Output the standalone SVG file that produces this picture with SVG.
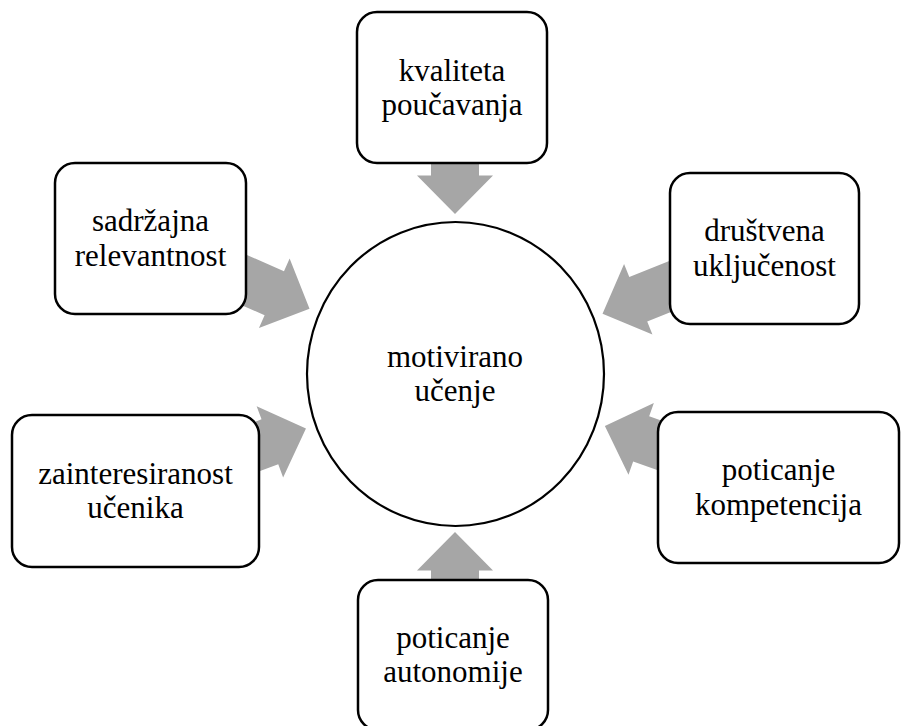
<svg xmlns="http://www.w3.org/2000/svg" xmlns:xlink="http://www.w3.org/1999/xlink" width="901" height="726" viewBox="0 0 901 726">
<style>
.box{fill:#fff;stroke:#000;stroke-width:2.5}
.arr{fill:#a6a6a6}
text{font-family:"Liberation Serif","Times New Roman",serif;font-size:31px;fill:#000;text-anchor:middle}
</style>
<defs>
<path id="arrow" d="M159,0 L197.5,-38 L197.5,-24 L285,-24 L285,24 L197.5,24 L197.5,38 Z"/>
</defs>
<rect width="901" height="726" fill="#fff"/>
<g id="connectors" class="arr">
<use xlink:href="#arrow" href="#arrow" transform="translate(455,373) rotate(-90)"/>
<use xlink:href="#arrow" href="#arrow" transform="translate(455,373) rotate(90)"/>
<use xlink:href="#arrow" href="#arrow" transform="translate(455,373) rotate(-156.2)"/>
<use xlink:href="#arrow" href="#arrow" transform="translate(455,373) rotate(-21.9)"/>
<use xlink:href="#arrow" href="#arrow" transform="translate(455,373) rotate(159.6)"/>
<use xlink:href="#arrow" href="#arrow" transform="translate(455,373) rotate(19.5)"/>
</g>
<g id="center">
<ellipse cx="455.5" cy="374" rx="148.5" ry="152" fill="#fff" stroke="#000" stroke-width="2.2"/>
<text x="455" y="366.5">motivirano</text>
<text x="455" y="401">učenje</text>
</g>
<g id="kvaliteta">
<rect class="box" x="357" y="12" width="190" height="151" rx="20"/>
<text x="452" y="80.5">kvaliteta</text>
<text x="452" y="115">poučavanja</text>
</g>
<g id="sadrzajna">
<rect class="box" x="55" y="163" width="191" height="151" rx="20"/>
<text x="150.5" y="231">sadržajna</text>
<text x="150.5" y="265.5">relevantnost</text>
</g>
<g id="drustvena">
<rect class="box" x="670" y="173" width="189" height="151" rx="20"/>
<text x="764.5" y="241">društvena</text>
<text x="764.5" y="275.5">uključenost</text>
</g>
<g id="zainteresiranost">
<rect class="box" x="12" y="415" width="247" height="152" rx="20"/>
<text x="135.5" y="483.5">zainteresiranost</text>
<text x="135.5" y="518">učenika</text>
</g>
<g id="kompetencija">
<rect class="box" x="658" y="412" width="241" height="151" rx="20"/>
<text x="778.5" y="480">poticanje</text>
<text x="778.5" y="514.5">kompetencija</text>
</g>
<g id="autonomija">
<rect class="box" x="358" y="580" width="190" height="150" rx="20"/>
<text x="453" y="647.5">poticanje</text>
<text x="453" y="682">autonomije</text>
</g>
</svg>
